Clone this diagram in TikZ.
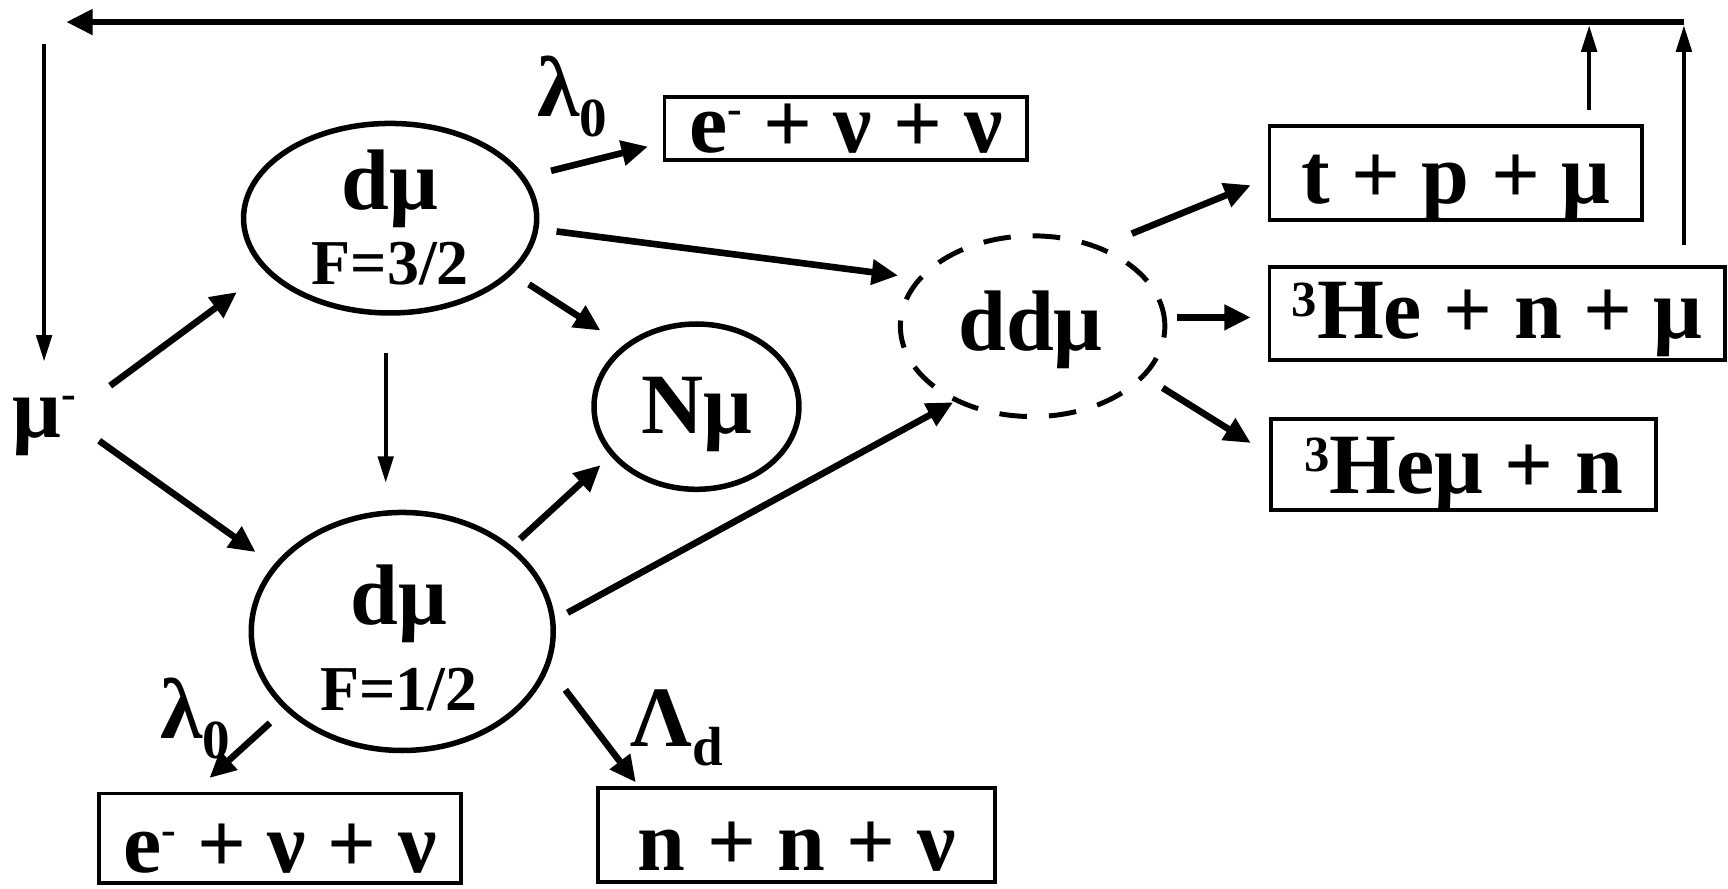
\documentclass[tikz,border=0pt]{standalone}
\usepackage{fontspec}
\setmainfont{Liberation Serif}
\usetikzlibrary{arrows.meta,shapes.geometric}

% small raised minus sign and raised mass number
\newcommand\supminus{\raisebox{26pt}{\fontsize{40}{40}\selectfont -}}
\newcommand\massnum[1]{\raisebox{20pt}{\fontsize{46}{46}\selectfont #1}}
\newcommand\lowidx[1]{\raisebox{-18pt}{\fontsize{50}{50}\selectfont #1}}

\begin{document}
\begin{tikzpicture}[x=1pt,y=-1pt,
  every node/.style={font=\bfseries\fontsize{78}{80}\selectfont, inner sep=0pt},
  small/.style={font=\bfseries\fontsize{58}{60}\selectfont},
  state/.style={draw, ellipse, line width=5pt},
  prod/.style={draw, rectangle, line width=3.5pt, text depth=0pt},
  arr/.style={line width=6pt, -{Triangle[length=24pt,width=22pt]}},
  thinarr/.style={line width=3.5pt, -{Triangle[length=24pt,width=14pt]}},
]
\useasboundingbox (0,0) rectangle (1568,806);

% states
\node[anchor=base] (mu) at (40,397) {μ\supminus};

\node[state, minimum width=266pt, minimum height=172pt] (d32) at (354,198) {};
\node[anchor=base] (d32a) at (354,190) {dμ};
\node[anchor=base, small] (d32b) at (354,258) {F=3/2};

\node[state, minimum width=274pt, minimum height=216pt] (d12) at (365,573) {};
\node[anchor=base] (d12a) at (362,567) {dμ};
\node[anchor=base, small] (d12b) at (362,645) {F=1/2};

\node[state, minimum width=186pt, minimum height=150pt] (nmu) at (632,369) {};
\node[anchor=base] (nmua) at (632,393) {Nμ};

\node[state, line width=4.5pt, dash pattern=on 25pt off 20pt, minimum width=240pt, minimum height=164pt] (dd) at (937,296) {};
\node[anchor=base] (dda) at (935,318) {ddμ};

% products
\node[prod, minimum width=329pt, minimum height=57pt, text height=43pt] (box1) at (767.5,116.5) {e\supminus{} + ν + ν};
\node[prod, minimum width=328pt, minimum height=81pt, text height=63pt] (box2) at (254,760.5) {e\supminus{} + ν + ν};
\node[prod, minimum width=360pt, minimum height=85pt, text height=65pt] (nnv) at (723,757.5) {n + n + ν};
\node[prod, minimum width=338pt, minimum height=86pt, text height=56pt] (tpm) at (1321,157) {t + p + μ};
\node[prod, minimum width=413pt, minimum height=85pt, text height=45pt] (he3n) at (1358.5,284.5) {\massnum{3}He + n + μ};
\node[prod, minimum width=350pt, minimum height=83pt, text height=53pt] (he3mu) at (1328,421.5) {\massnum{3}Heμ + n};

% rate labels
\node[anchor=base] (lam1) at (519,106) {λ\lowidx{0}};
\node[anchor=base] (lam2) at (177,670) {λ\lowidx{0}};
\node[anchor=base] (lamd) at (614,677) {Λ\lowidx{d}};

% recycling loop
\coordinate (topR) at (1528,20);
\coordinate (topL) at (60,20);
\coordinate (downTop) at (40,40);
\draw[arr] (topR) -- (topL);
\draw[thinarr] (downTop) -- ([shift={(0,-69)}]mu.base);
\draw[thinarr] ([shift={(121,-57)}]tpm.center) -- ([shift={(-86,3)}]topR);
\draw[thinarr] ([shift={(169.5,-62.5)}]he3n.center) -- ([shift={(0,3)}]topR);

% transitions
\draw[arr] ([shift={(60,-47)}]mu.base) -- ([shift={(-139,67)}]d32.center);
\draw[arr] ([shift={(50,3)}]mu.base) -- ([shift={(-133,-72)}]d12.center);
\draw[arr] ([shift={(146,-43)}]d32.center) -- ([shift={(-179.5,16.5)}]box1.center);
\draw[arr] ([shift={(151,12)}]d32.center) -- ([shift={(-122,-46)}]dd.center);
\draw[arr] ([shift={(126,60)}]d32.center) -- ([shift={(-87,-69)}]nmu.center);
\draw[thinarr] ([shift={(-4,122)}]d32.center) -- ([shift={(-15,-135)}]d12.center);
\draw[arr] ([shift={(107,-84)}]d12.center) -- ([shift={(-87,53)}]nmu.center);
\draw[arr] ([shift={(150,-17)}]d12.center) -- ([shift={(-72,69)}]dd.center);
\draw[arr] ([shift={(-120,83)}]d12.center) -- ([shift={(-64,-54.5)}]box2.center);
\draw[arr] ([shift={(148,53)}]d12.center) -- ([shift={(-146,-47.5)}]nnv.center);
\draw[arr] ([shift={(90,-84)}]dd.center) -- ([shift={(-186,11)}]tpm.center);
\draw[arr] ([shift={(131,-8)}]dd.center) -- ([shift={(-223.5,3.5)}]he3n.center);
\draw[arr] ([shift={(118,56)}]dd.center) -- ([shift={(-193,-19.5)}]he3mu.center);
\end{tikzpicture}
\end{document}
